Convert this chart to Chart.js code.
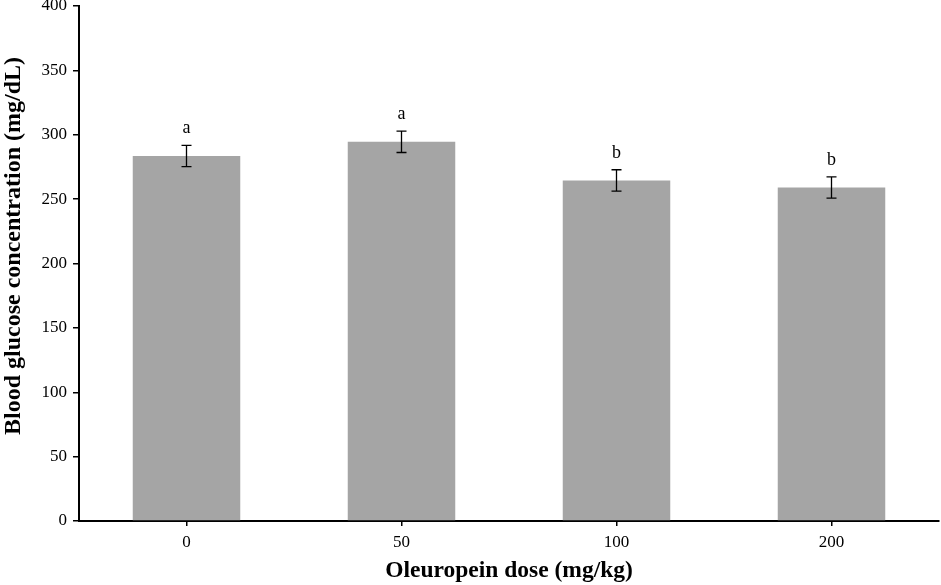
<!DOCTYPE html>
<html>
<head>
<meta charset="utf-8">
<script src="https://cdn.jsdelivr.net/npm/chart.js@4/dist/chart.umd.min.js"></script>
<style>
  html, body { margin: 0; padding: 0; background: #fff; }
  #wrap { width: 941px; height: 585px; }
</style>
</head>
<body>
<div id="wrap"><canvas id="grafico"></canvas></div>
<script>
const doses = ['0', '50', '100', '200'];
const glicose = [283.5, 294.5, 264.5, 259];
const erros = [8.3, 8.3, 8.3, 8.3];
const letras = ['a', 'a', 'b', 'b'];
const yTicks = [0, 50, 100, 150, 200, 250, 300, 350, 400];

const fonte = '"Liberation Serif", "Times New Roman", serif';

// barras de erro e letras de significancia
const errosPlugin = {
  id: 'erros',
  afterDatasetsDraw(chart) {
    const c = chart.ctx;
    const x = chart.scales.x;
    const y = chart.scales.y;
    c.save();
    c.strokeStyle = '#000';
    c.lineWidth = 1.3;
    c.fillStyle = '#000';
    c.font = '18px ' + fonte;
    c.textAlign = 'center';
    c.textBaseline = 'alphabetic';
    glicose.forEach((v, i) => {
      const px = x.getPixelForValue(i);
      const top = y.getPixelForValue(v + erros[i]);
      const bot = y.getPixelForValue(v - erros[i]);
      c.beginPath();
      c.moveTo(px, top); c.lineTo(px, bot);
      c.moveTo(px - 5, top); c.lineTo(px + 5, top);
      c.moveTo(px - 5, bot); c.lineTo(px + 5, bot);
      c.stroke();
      c.fillText(letras[i], px, top - 12);
    });
    c.restore();
  },
  afterDraw(chart) {
    const c = chart.ctx;
    c.save();
    c.translate(14, 246);
    c.rotate(-Math.PI / 2);
    c.fillStyle = '#000';
    c.font = 'bold 24px ' + fonte;
    c.textAlign = 'center';
    c.textBaseline = 'middle';
    c.fillText('Blood glucose concentration (mg/dL)', 0, 0);
    c.restore();
  }
};

new Chart(document.getElementById('grafico'), {
  type: 'bar',
  data: {
    labels: doses,
    datasets: [{
      data: glicose,
      backgroundColor: '#a5a5a5',
      borderWidth: 0,
      categoryPercentage: 1,
      barPercentage: 0.5
    }]
  },
  options: {
    responsive: true,
    maintainAspectRatio: false,
    animation: false,
    layout: { padding: { top: 6, right: 2, left: 0, bottom: 0 } },
    plugins: { legend: { display: false }, tooltip: { enabled: false } },
    scales: {
      y: {
        min: 0,
        max: 400,
        afterFit(scale) { scale.width = 79; scale.paddingTop = 0; scale.paddingBottom = 0; },
        afterBuildTicks(scale) { scale.ticks = yTicks.map(v => ({ value: v })); },
        border: { display: true, color: '#000', width: 2 },
        grid: { drawOnChartArea: false, drawTicks: true, tickLength: 6, color: '#000', lineWidth: 1.5 },
        ticks: { color: '#000', padding: 6, font: { family: fonte, size: 17 } }
      },
      x: {
        afterFit(scale) { scale.height = 64; scale.paddingRight = 0; scale.paddingLeft = 0; },
        border: { display: true, color: '#000', width: 2 },
        grid: { offset: false, drawOnChartArea: false, drawTicks: true, tickLength: 5, color: '#000', lineWidth: 1.5 },
        ticks: { color: '#000', padding: 6, font: { family: fonte, size: 17 } },
        title: {
          display: true,
          text: 'Oleuropein dose (mg/kg)',
          color: '#000',
          padding: 0,
          font: { family: fonte, size: 23.5, weight: 'bold' }
        }
      }
    }
  },
  plugins: [errosPlugin]
});
</script>
</body>
</html>
